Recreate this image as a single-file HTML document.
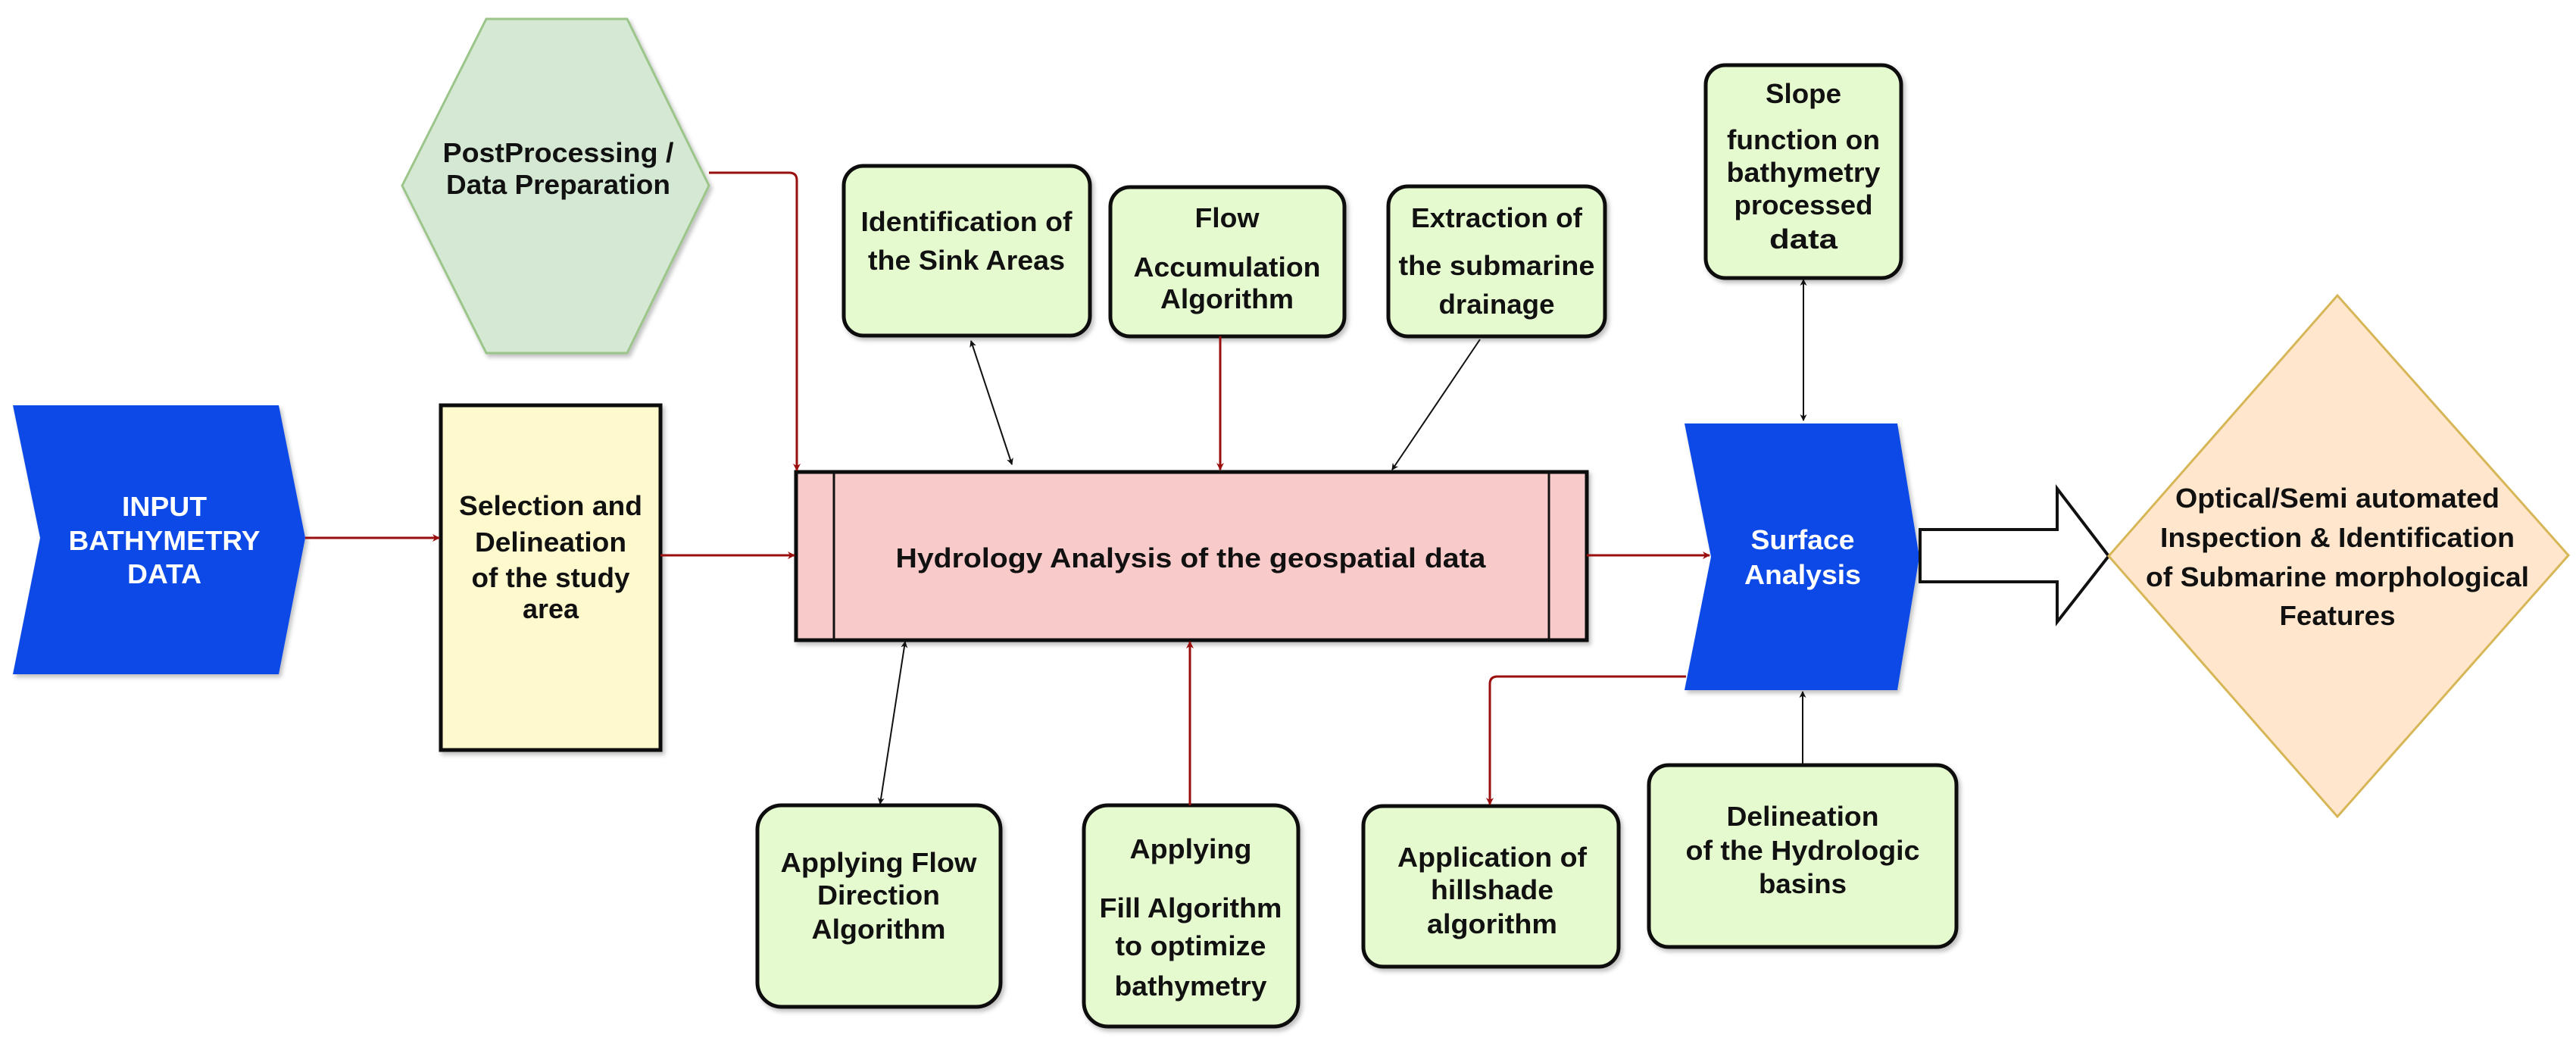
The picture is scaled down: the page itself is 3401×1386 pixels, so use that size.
<!DOCTYPE html>
<html><head><meta charset="utf-8"><style>
html,body{margin:0;padding:0;background:#fff;}
svg{display:block;}
text{font-family:"Liberation Sans",Arial,sans-serif;font-weight:bold;font-size:36px;fill:#111;text-anchor:middle;}
.w{fill:#fff;}
</style></head><body>
<svg width="3401" height="1386" viewBox="0 0 3401 1386" xmlns="http://www.w3.org/2000/svg">
<defs>
<marker id="ar" markerWidth="10" markerHeight="10" refX="9" refY="5" orient="auto" markerUnits="userSpaceOnUse" viewBox="0 0 10 10"><path d="M0,0 L10,5 L0,10 L3,5 z" fill="#9b0e0e"/></marker>
<marker id="ak" markerWidth="9" markerHeight="9" refX="8" refY="4.5" orient="auto" markerUnits="userSpaceOnUse" viewBox="0 0 9 9"><path d="M0,0 L9,4.5 L0,9 L2.5,4.5 z" fill="#111"/></marker>
<marker id="aks" markerWidth="9" markerHeight="9" refX="1" refY="4.5" orient="auto" markerUnits="userSpaceOnUse" viewBox="0 0 9 9"><path d="M9,0 L0,4.5 L9,9 L6.5,4.5 z" fill="#111"/></marker>
<filter id="sh" x="-5%" y="-5%" width="115%" height="115%"><feDropShadow dx="3" dy="4" stdDeviation="3" flood-color="#000" flood-opacity="0.25"/></filter>
</defs>
<rect width="3401" height="1386" fill="#fff"/>

<!-- Hexagon -->
<polygon points="531,245 642,25 828,25 936,245 828,466 642,466" fill="#d5e8d4" stroke="#9cc58a" stroke-width="3" filter="url(#sh)"/>
<text x="737" y="214" textLength="305" lengthAdjust="spacingAndGlyphs">PostProcessing /</text>
<text x="737" y="256" textLength="296" lengthAdjust="spacingAndGlyphs">Data Preparation</text>

<!-- Input -->
<polygon points="17,535 368,535 403,710 368,890 17,890 53,710" fill="#0a48e6" filter="url(#sh)"/>
<text class="w" x="217" y="681" textLength="112" lengthAdjust="spacingAndGlyphs">INPUT</text>
<text class="w" x="217" y="726" textLength="253" lengthAdjust="spacingAndGlyphs">BATHYMETRY</text>
<text class="w" x="217" y="770" textLength="98" lengthAdjust="spacingAndGlyphs">DATA</text>

<!-- Yellow -->
<rect x="582" y="535" width="290" height="455" fill="#fffacd" stroke="#111" stroke-width="5" filter="url(#sh)"/>
<text x="727" y="680" textLength="242" lengthAdjust="spacingAndGlyphs">Selection and</text>
<text x="727" y="728" textLength="200" lengthAdjust="spacingAndGlyphs">Delineation</text>
<text x="727" y="775" textLength="209" lengthAdjust="spacingAndGlyphs">of the study</text>
<text x="727" y="816" textLength="74" lengthAdjust="spacingAndGlyphs">area</text>

<!-- Hydrology -->
<rect x="1051" y="623" width="1044" height="222" fill="#f8cbca" stroke="#111" stroke-width="5" filter="url(#sh)"/>
<line x1="1101" y1="623" x2="1101" y2="845" stroke="#111" stroke-width="3"/>
<line x1="2045" y1="623" x2="2045" y2="845" stroke="#111" stroke-width="3"/>
<text x="1572" y="749" textLength="779" lengthAdjust="spacingAndGlyphs">Hydrology Analysis of the geospatial data</text>

<!-- Surface -->
<polygon points="2224,559 2505,559 2534,735 2505,911 2224,911 2259,735" fill="#0a48e6" filter="url(#sh)"/>
<text class="w" x="2380" y="725" textLength="137" lengthAdjust="spacingAndGlyphs">Surface</text>
<text class="w" x="2380" y="771" textLength="154" lengthAdjust="spacingAndGlyphs">Analysis</text>

<!-- Big arrow -->
<polygon points="2535,699 2716,699 2716,645 2784,734 2716,821 2716,768 2535,768" fill="#fff" stroke="#111" stroke-width="4"/>

<!-- Diamond -->
<polygon points="2784,734 3086,390 3391,733 3086,1078" fill="#ffe6cc" stroke="#d6b656" stroke-width="3"/>
<text x="3086" y="670" textLength="428" lengthAdjust="spacingAndGlyphs">Optical/Semi automated</text>
<text x="3086" y="722" textLength="468" lengthAdjust="spacingAndGlyphs">Inspection &amp; Identification</text>
<text x="3086" y="774" textLength="506" lengthAdjust="spacingAndGlyphs">of Submarine morphological</text>
<text x="3086" y="825" textLength="153" lengthAdjust="spacingAndGlyphs">Features</text>

<!-- Top boxes -->
<g fill="#e6fad0" stroke="#111" stroke-width="5" filter="url(#sh)">
<rect x="1114" y="219" width="325" height="224" rx="26"/>
<rect x="1466" y="247" width="309" height="197" rx="26"/>
<rect x="1833" y="246" width="286" height="198" rx="26"/>
<rect x="2252" y="86" width="258" height="281" rx="26"/>
<rect x="1000" y="1063" width="321" height="266" rx="32"/>
<rect x="1431" y="1063" width="283" height="292" rx="32"/>
<rect x="1800" y="1064" width="337" height="212" rx="26"/>
<rect x="2177" y="1010" width="406" height="240" rx="26"/>
</g>
<text x="1276" y="305" textLength="279" lengthAdjust="spacingAndGlyphs">Identification of</text>
<text x="1276" y="356" textLength="260" lengthAdjust="spacingAndGlyphs">the Sink Areas</text>
<text x="1620" y="300" textLength="85" lengthAdjust="spacingAndGlyphs">Flow</text>
<text x="1620" y="365" textLength="247" lengthAdjust="spacingAndGlyphs">Accumulation</text>
<text x="1620" y="407" textLength="176" lengthAdjust="spacingAndGlyphs">Algorithm</text>
<text x="1976" y="300" textLength="226" lengthAdjust="spacingAndGlyphs">Extraction of</text>
<text x="1976" y="363" textLength="259" lengthAdjust="spacingAndGlyphs">the submarine</text>
<text x="1976" y="414" textLength="153" lengthAdjust="spacingAndGlyphs">drainage</text>
<text x="2381" y="136" textLength="100" lengthAdjust="spacingAndGlyphs">Slope</text>
<text x="2381" y="197" textLength="202" lengthAdjust="spacingAndGlyphs">function on</text>
<text x="2381" y="240" textLength="203" lengthAdjust="spacingAndGlyphs">bathymetry</text>
<text x="2381" y="283" textLength="183" lengthAdjust="spacingAndGlyphs">processed</text>
<text x="2381" y="328" textLength="90" lengthAdjust="spacingAndGlyphs">data</text>
<text x="1160" y="1151" textLength="259" lengthAdjust="spacingAndGlyphs">Applying Flow</text>
<text x="1160" y="1194" textLength="162" lengthAdjust="spacingAndGlyphs">Direction</text>
<text x="1160" y="1239" textLength="177" lengthAdjust="spacingAndGlyphs">Algorithm</text>
<text x="1572" y="1133" textLength="161" lengthAdjust="spacingAndGlyphs">Applying</text>
<text x="1572" y="1211" textLength="241" lengthAdjust="spacingAndGlyphs">Fill Algorithm</text>
<text x="1572" y="1261" textLength="199" lengthAdjust="spacingAndGlyphs">to optimize</text>
<text x="1572" y="1314" textLength="201" lengthAdjust="spacingAndGlyphs">bathymetry</text>
<text x="1970" y="1144" textLength="250" lengthAdjust="spacingAndGlyphs">Application of</text>
<text x="1970" y="1187" textLength="162" lengthAdjust="spacingAndGlyphs">hillshade</text>
<text x="1970" y="1232" textLength="172" lengthAdjust="spacingAndGlyphs">algorithm</text>
<text x="2380" y="1090" textLength="201" lengthAdjust="spacingAndGlyphs">Delineation</text>
<text x="2380" y="1135" textLength="309" lengthAdjust="spacingAndGlyphs">of the Hydrologic</text>
<text x="2380" y="1179" textLength="116" lengthAdjust="spacingAndGlyphs">basins</text>

<!-- Connectors -->
<g fill="none" stroke="#9b0e0e" stroke-width="3">
<path d="M936,228 L1042,228 Q1052,228 1052,238 L1052,621" marker-end="url(#ar)"/>
<line x1="403" y1="710" x2="580" y2="710" marker-end="url(#ar)"/>
<line x1="872" y1="733" x2="1049" y2="733" marker-end="url(#ar)"/>
<line x1="2095" y1="733" x2="2257" y2="733" marker-end="url(#ar)"/>
<line x1="1611" y1="444" x2="1611" y2="620" marker-end="url(#ar)"/>
<line x1="1571" y1="1063" x2="1571" y2="847" marker-end="url(#ar)"/>
<path d="M2226,893 L1977,893 Q1967,893 1967,903 L1967,1062" marker-end="url(#ar)"/>
</g>
<g fill="none" stroke="#111" stroke-width="2">
<line x1="1282" y1="450" x2="1336" y2="613" marker-start="url(#aks)" marker-end="url(#ak)"/>
<line x1="1954" y1="448" x2="1838" y2="620" marker-end="url(#ak)"/>
<line x1="2381" y1="369" x2="2381" y2="555" marker-start="url(#aks)" marker-end="url(#ak)"/>
<line x1="1195" y1="847" x2="1162" y2="1061" marker-start="url(#aks)" marker-end="url(#ak)"/>
<line x1="2380" y1="1010" x2="2380" y2="913" marker-end="url(#ak)"/>
</g>
</svg>
</body></html>
